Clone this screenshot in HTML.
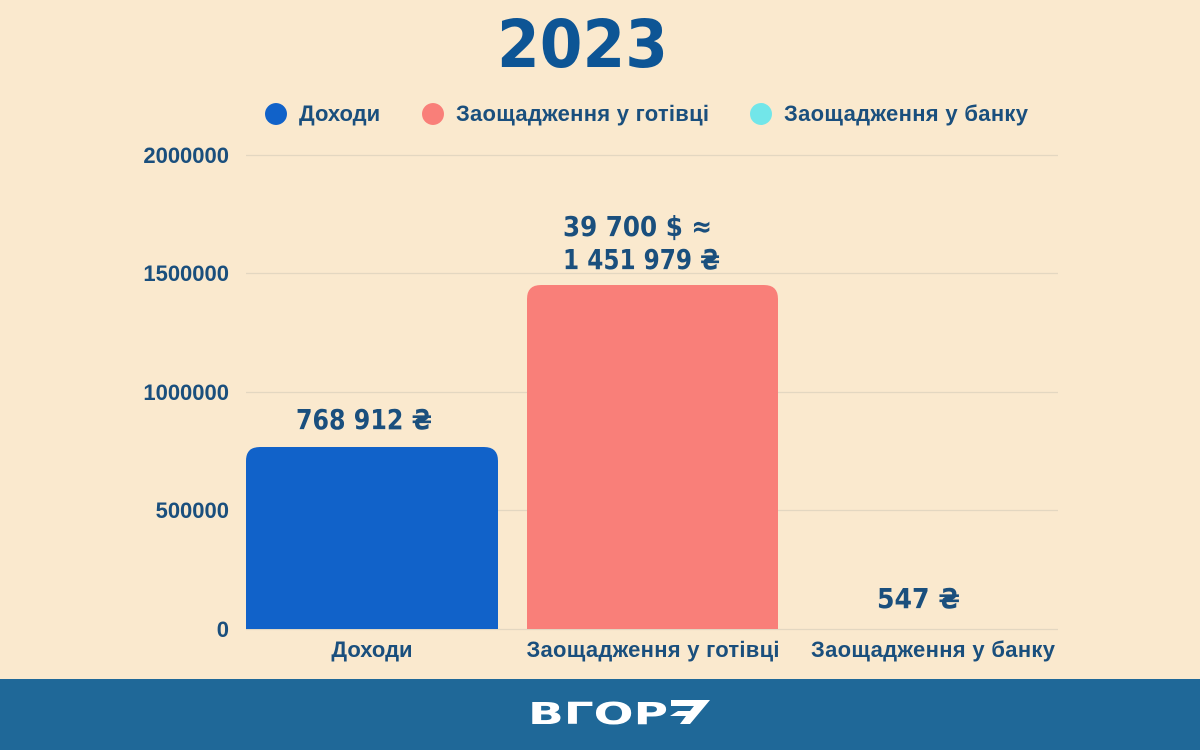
<!DOCTYPE html>
<html><head><meta charset="utf-8"><style>
html,body{margin:0;padding:0;width:1200px;height:750px;overflow:hidden;background:#FAE9CE;}
svg{display:block}
</style></head><body>
<svg width="1200" height="750" xmlns="http://www.w3.org/2000/svg" font-family="'Liberation Sans', sans-serif" font-weight="bold">
<rect width="1200" height="750" fill="#FAE9CE"/>
<text x="497" y="67" font-size="66" fill="#0D5595" font-family="'DejaVu Sans', sans-serif" textLength="171" lengthAdjust="spacingAndGlyphs">2023</text>
<g font-size="22" fill="#1A4F7D">
<circle cx="276" cy="114" r="11" fill="#1162C9"/><text x="299" y="121">Доходи</text>
<circle cx="433" cy="114" r="11" fill="#F97F79"/><text x="456" y="121" textLength="253">Заощадження у готівці</text>
<circle cx="761" cy="114" r="11" fill="#72E6E9"/><text x="784" y="121" textLength="244">Заощадження у банку</text>
</g>
<g stroke="#E3D7C1" stroke-width="1.2">
<line x1="246" y1="155.5" x2="1058" y2="155.5"/>
<line x1="246" y1="273.5" x2="1058" y2="273.5"/>
<line x1="246" y1="392.5" x2="1058" y2="392.5"/>
<line x1="246" y1="510.5" x2="1058" y2="510.5"/>
<line x1="246" y1="629.5" x2="1058" y2="629.5"/>
</g>
<g font-size="22" fill="#1A4F7D" text-anchor="end">
<text x="229" y="163">2000000</text>
<text x="229" y="281">1500000</text>
<text x="229" y="400">1000000</text>
<text x="229" y="518">500000</text>
<text x="229" y="637">0</text>
</g>
<path d="M246 629 V461 Q246 447 260 447 H484 Q498 447 498 461 V629 Z" fill="#1162C9"/>
<path d="M527 629 V299 Q527 285 541 285 H764 Q778 285 778 299 V629 Z" fill="#F97F79"/>
<g font-size="28" fill="#1A4F7D" font-family="'DejaVu Sans', sans-serif" lengthAdjust="spacingAndGlyphs">
<text x="296" y="429" textLength="136" lengthAdjust="spacingAndGlyphs">768 912 ₴</text>
<text x="563" y="236" textLength="149" lengthAdjust="spacingAndGlyphs">39 700 $ ≈</text>
<text x="563" y="269" textLength="157" lengthAdjust="spacingAndGlyphs">1 451 979 ₴</text>
<text x="877" y="608" textLength="83" lengthAdjust="spacingAndGlyphs">547 ₴</text>
</g>
<g font-size="22" fill="#1A4F7D" text-anchor="middle">
<text x="372" y="657">Доходи</text>
<text x="653" y="657" textLength="253">Заощадження у готівці</text>
<text x="933" y="657" textLength="244">Заощадження у банку</text>
</g>
<rect x="0" y="679" width="1200" height="71" fill="#1F6898"/>
<text x="528" y="724" font-size="30" fill="#fff" textLength="140" lengthAdjust="spacingAndGlyphs" font-family="'DejaVu Sans', sans-serif">ВГОР</text>
<path d="M671 700 H710 L690 724 H680 L686 716 H670 L678 711 H690 L694 706 H671 Z" fill="#fff"/>
</svg>
</body></html>
